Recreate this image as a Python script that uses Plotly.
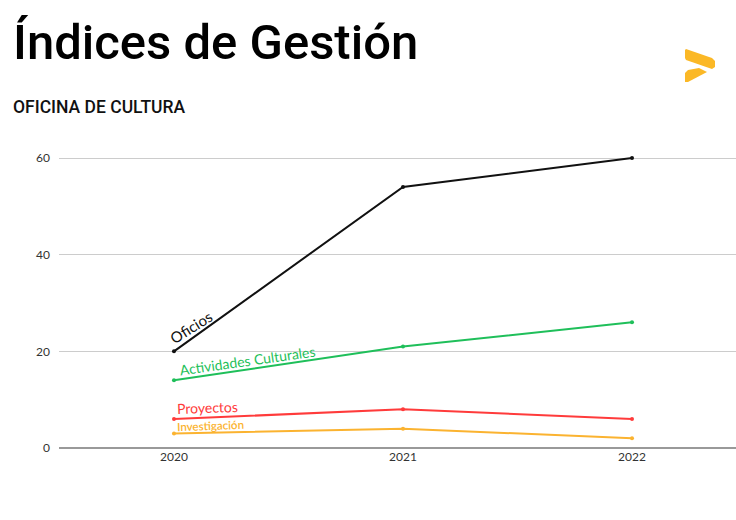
import plotly.graph_objects as go

years = ["2020", "2021", "2022"]
series_names = ["Oficios", "Actividades Culturales", "Proyectos", "Investigación"]
oficios = [20, 54, 60]
actividades = [14, 21, 26]
proyectos = [6, 8, 6]
investigacion = [3, 4, 2]
y_ticks = [0, 20, 40, 60]

values = [oficios, actividades, proyectos, investigacion]
colors = ["#111111", "#1fbf5a", "#ff3b3b", "#fbb330"]

W, H = 736, 520
L, R, T, B = 59, 0, 140, 72
PW, PH = W - L - R, H - T - B

def px(x):
    return (x - L) / PW

def py(y):
    return (H - B - y) / PH

fig = go.Figure()
for name, vals, col in zip(series_names, values, colors):
    fig.add_trace(go.Scatter(
        x=years, y=vals, mode="lines+markers", name=name,
        line=dict(color=col, width=2), marker=dict(color=col, size=4),
        showlegend=False, hoverinfo="x+y+name"))

labels = [
    dict(text="Oficios", x=0.075, y=25.0, angle=-32, size=15, color=colors[0]),
    dict(text="Actividades Culturales", x=0.323, y=18.2, angle=-8, size=14, color=colors[1]),
    dict(text="Proyectos", x=0.148, y=8.4, angle=-2, size=14, color=colors[2]),
    dict(text="Investigación", x=0.16, y=4.6, angle=-2, size=11.5, color=colors[3]),
]
for lb in labels:
    fig.add_annotation(x=lb["x"], y=lb["y"], xref="x", yref="y", text=lb["text"],
                       showarrow=False, textangle=lb["angle"],
                       font=dict(family="Lato, Open Sans, sans-serif", size=lb["size"],
                                 color=lb["color"], weight=600 if lb["size"] < 12 else 400))

cond = "Roboto, sans-serif"
fig.add_annotation(x=px(11), y=py(42), xref="paper", yref="paper", xanchor="left", yanchor="middle",
                   text="Índices de Gestión", showarrow=False,
                   font=dict(family=cond, size=49, color="#000000", weight=500))
fig.add_annotation(x=px(11), y=py(107), xref="paper", yref="paper", xanchor="left", yanchor="middle",
                   text="OFICINA DE CULTURA", showarrow=False,
                   font=dict(family=cond, size=17.5, color="#111111", weight=500))

def path(points):
    return "M " + " L ".join(f"{px(a):.5f},{py(b):.5f}" for a, b in points) + " Z"

logo_color = "#fbb826"
fig.add_shape(type="path", xref="paper", yref="paper",
              path=path([(685, 50), (686, 49), (712, 58), (715, 61), (715, 67), (712, 69), (686, 60), (685, 58)]),
              fillcolor=logo_color, line=dict(width=0))
fig.add_shape(type="path", xref="paper", yref="paper",
              path=path([(685, 73), (688, 70), (699, 68), (707, 72), (688, 82), (685, 82)]),
              fillcolor=logo_color, line=dict(width=0))

fig.update_layout(
    width=W, height=H,
    margin=dict(l=L, r=R, t=T, b=B),
    paper_bgcolor="white", plot_bgcolor="white",
    font=dict(family="Lato, Open Sans, sans-serif", size=12, color="#333333"),
    xaxis=dict(type="category", range=[-0.502, 2.454], showgrid=False, zeroline=False,
               showline=False, ticks="", tickfont=dict(size=12, color="#333333"), fixedrange=True),
    yaxis=dict(range=[0, (H - B - T) / 4.833], tickvals=y_ticks, ticktext=[str(v) for v in y_ticks],
               showgrid=True, gridcolor="#cccccc", gridwidth=1,
               zeroline=True, zerolinecolor="#999999", zerolinewidth=2,
               showline=False, ticks="", ticklabelstandoff=8,
               tickfont=dict(size=12, color="#333333"), fixedrange=True),
)

fig.write_html("out.html", config={"displayModeBar": False},
               post_script="document.body.style.margin='0';document.body.style.overflow='hidden';")
